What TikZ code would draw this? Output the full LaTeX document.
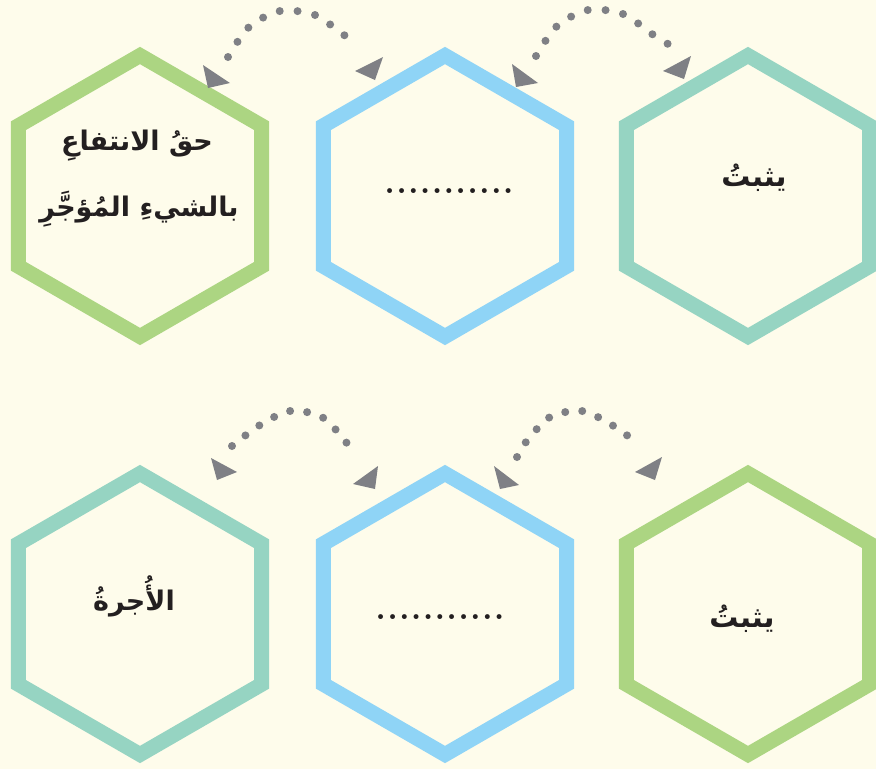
\documentclass[tikz,border=0pt]{standalone}
\usepackage{fontspec}
\usetikzlibrary{shapes.geometric}
\newfontfamily\arabicfont[Script=Arabic]{DejaVu Sans}
\TeXXeTstate=1
\definecolor{bgc}{RGB}{254,252,235}
\definecolor{hgreen}{RGB}{172,213,130}
\definecolor{hblue}{RGB}{143,212,246}
\definecolor{hteal}{RGB}{150,212,194}
\definecolor{arrowgray}{RGB}{127,128,133}
\definecolor{txt}{RGB}{35,31,32}
\newcommand\dk{\kern1.2pt}
\begin{document}
\begin{tikzpicture}[x=1pt,y=-1pt,
  hex/.style={regular polygon, regular polygon sides=6, shape border rotate=30,
    minimum size=281pt, inner sep=0pt, outer sep=0pt, line width=15pt, draw=#1},
  lab/.style={font=\arabicfont\bfseries\fontsize{27}{30}\selectfont, text=txt, inner sep=0pt, anchor=base},
  labbig/.style={lab, font=\arabicfont\bfseries\fontsize{29}{32}\selectfont},
  dotsx/.style={font=\bfseries\fontsize{34}{34}\selectfont, text=txt, inner sep=0pt, anchor=base},
  dotarc/.style={draw=arrowgray, line width=8pt, line cap=round, dash pattern=on 0pt off #1},
  arrowhead/.style={fill=arrowgray}
]
\fill[bgc] (0,0) rectangle (876,769);
\useasboundingbox (0,0) rectangle (876,769);

\node[hex=hgreen] (h1) at (140,196) {};
\node[hex=hblue]  (h2) at (445,196) {};
\node[hex=hteal]  (h3) at (748,196) {};
\node[hex=hteal]  (h4) at (140,614) {};
\node[hex=hblue]  (h5) at (445,614) {};
\node[hex=hgreen] (h6) at (748,614) {};

\node[lab] (t1a) at (137,150) {\beginR حقُ الانتفاعِ\endR};
\node[lab] (t1b) at (139,216) {\beginR بالشيءِ المُؤجَّرِ\endR};
\node[dotsx] (t2) at (449,193) {.\dk.\dk.\dk.\dk.\dk.\dk.\dk.\dk.\dk.\dk.};
\node[labbig] (t3) at (754,186) {يثبتُ};
\node[lab] (t4) at (134,610) {الأُجرةُ};
\node[dotsx] (t5) at (440,619) {.\dk.\dk.\dk.\dk.\dk.\dk.\dk.\dk.\dk.\dk.};
\node[labbig] (t6) at (742,627) {يثبتُ};

% arrow 1 (top left)
\coordinate (p1s) at (228,57); \coordinate (p1e) at (360,44);
\draw[dotarc=17.9pt] plot[smooth] coordinates {(p1s) (249,27) (280,11) (315,15) (344,35) (p1e)};
\fill[arrowhead] (203,65) -- (230,83) -- (208,88) -- cycle;
\fill[arrowhead] (355,71) -- (383,57) -- (375,80) -- cycle;
% arrow 2 (top right)
\coordinate (p2s) at (536,56); \coordinate (p2e) at (668,44);
\draw[dotarc=17.9pt] plot[smooth] coordinates {(p2s) (557,26) (588,10) (623,14) (652,34) (p2e)};
\fill[arrowhead] (512,64) -- (538,83) -- (516,87) -- cycle;
\fill[arrowhead] (663,71) -- (691,56) -- (684,79) -- cycle;
% arrow 3 (bottom left)
\coordinate (p3s) at (232,446); \coordinate (p3e) at (355,457);
\draw[dotarc=17.1pt] plot[smooth] coordinates {(p3s) (260,425) (290,411) (322,417) (346,442) (p3e)};
\fill[arrowhead] (211,458) -- (237,472) -- (217,480) -- cycle;
\fill[arrowhead] (353,484) -- (378,466) -- (375,489) -- cycle;
% arrow 4 (bottom right)
\coordinate (p4s) at (517,457); \coordinate (p4e) at (640,445);
\draw[dotarc=17.1pt] plot[smooth] coordinates {(p4s) (526,442) (550,417) (582,411) (612,425) (p4e)};
\fill[arrowhead] (494,466) -- (519,485) -- (500,489) -- cycle;
\fill[arrowhead] (635,472) -- (662,457) -- (655,480) -- cycle;
\end{tikzpicture}
\end{document}
